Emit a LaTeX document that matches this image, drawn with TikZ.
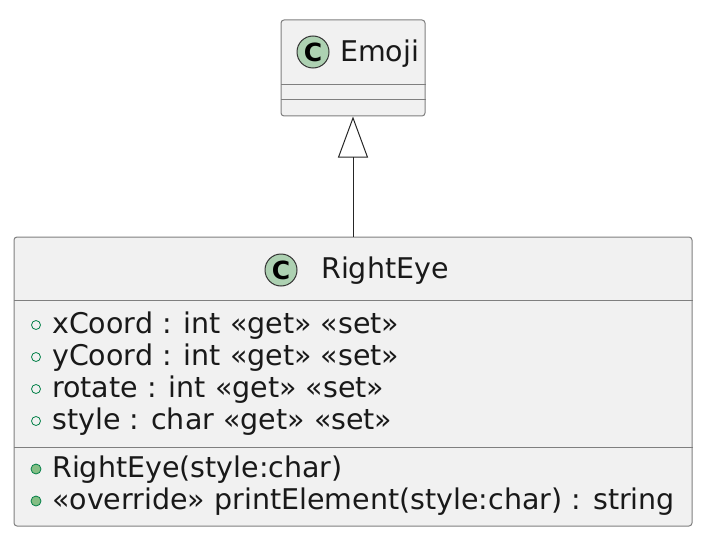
\documentclass[tikz,border=0pt]{standalone}
\usepackage{fontspec}
\setmainfont{DejaVu Sans}
\usetikzlibrary{arrows.meta}
\definecolor{boxfill}{HTML}{F1F1F1}
\definecolor{boxline}{HTML}{7F7F7F}
\definecolor{cfill}{HTML}{ADD1B2}
\definecolor{visline}{HTML}{038048}
\definecolor{visfill}{HTML}{84BE84}

\begin{document}
\begin{tikzpicture}[x=1pt,y=1pt]
  \tikzstyle{ClassBox}=[draw=boxline,fill=boxfill,rounded corners=3pt,line width=1pt,inner sep=0pt]
  \tikzstyle{ClassMark}=[circle,draw=black!80,fill=cfill,minimum size=32pt,inner sep=0pt,line width=1pt,font=\fontsize{25}{25}\selectfont\bfseries]
  \tikzstyle{Member}=[anchor=base west,inner sep=0pt,font=\fontsize{28.5}{32}\selectfont,text=black!90]
  \tikzstyle{Field}=[circle,draw=visline,minimum size=9pt,inner sep=0pt,line width=0.8pt]
  \tikzstyle{Method}=[circle,draw=visline,fill=visfill,minimum size=10pt,inner sep=0pt,line width=0.8pt]
  \tikzstyle{Divider}=[draw=boxline,line width=1pt]
  \useasboundingbox (0,0) rectangle (708,558);
  % class Emoji
  \node[ClassBox,minimum width=144pt,minimum height=96pt] (emoji) at (353,490) {};
  \node[ClassMark] (emoji_c) at (313,506) {C};
  \node[Member] (emoji_t) at (340,496) {Emoji};
  \coordinate (emoji_d1) at (281,473);
  \coordinate (emoji_d2) at (281,458);
  \draw[Divider] (emoji_d1) -- (emoji_d1 -| emoji.east);
  \draw[Divider] (emoji_d2) -- (emoji_d2 -| emoji.east);
  % class RightEye
  \node[ClassBox,minimum width=678pt,minimum height=289pt] (eye) at (353,176.5) {};
  \node[ClassMark] (eye_c) at (281,288) {C};
  \node[Member] (eye_t) at (321,280) {RightEye};
  \coordinate (eye_d1) at (14,258);
  \coordinate (eye_d2) at (14,111);
  \draw[Divider] (eye_d1) -- (eye_d1 -| eye.east);
  \draw[Divider] (eye_d2) -- (eye_d2 -| eye.east);
  % fields
  \node[Field] (f1) at (36,233) {};
  \node[Member] (xc) at (52,225) {xCoord : int «get» «set»};
  \node[Field] (f2) at (36,201) {};
  \node[Member] (yc) at (52,193) {yCoord : int «get» «set»};
  \node[Field] (f3) at (36,169) {};
  \node[Member] (rot) at (52,161) {rotate : int «get» «set»};
  \node[Field] (f4) at (36,137) {};
  \node[Member] (sty) at (52,129) {style : char «get» «set»};
  % methods
  \node[Method] (m1) at (36,89) {};
  \node[Member] (ctor) at (52,81) {RightEye(style:char)};
  \node[Method] (m2) at (36,57) {};
  \node[Member] (pe) at (52,49) {«override» printElement(style:char) : string};
  % inheritance
  \draw[line width=1pt,black!85,-{Triangle[open,length=41pt,width=30pt,line width=1pt]}] (eye.north) -- (emoji.south);
\end{tikzpicture}
\end{document}
